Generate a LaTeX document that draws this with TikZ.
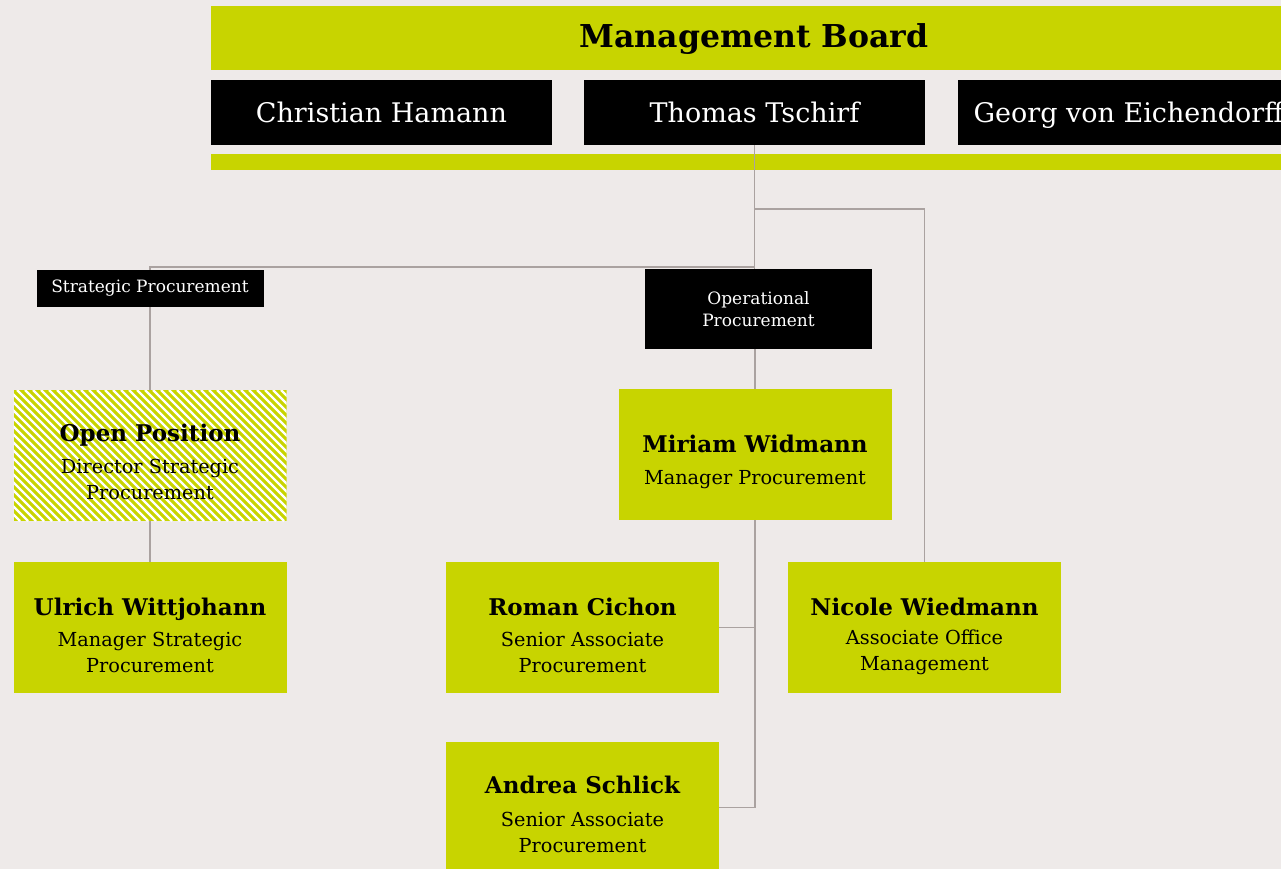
\documentclass[tikz,border=0pt]{standalone}
\usepackage{fontspec}
\setmainfont{DejaVu Serif}
\definecolor{bg}{RGB}{238,234,233}
\definecolor{lime}{RGB}{200,212,0}
\definecolor{conn}{RGB}{170,162,160}
\begin{document}
\begin{tikzpicture}[x=1pt,y=-1pt,
  bar/.style={fill=lime, inner sep=0, anchor=north west},
  member/.style={fill=black, text=white, minimum width=341, minimum height=65, inner sep=0, text height=20, text depth=0, font=\fontsize{27}{32}\selectfont},
  dept/.style={fill=black, text=white, inner sep=0, align=center, font=\fontsize{17}{22}\selectfont},
  person/.style={fill=lime, minimum width=273, minimum height=131, inner sep=0},
  pname/.style={font=\fontsize{23}{26}\selectfont\bfseries, inner sep=0, text height=17, text depth=0},
  ptitle/.style={font=\fontsize{19.3}{26}\selectfont, align=center, inner sep=0},
  conn/.style={draw=conn, line width=1.5}]
\useasboundingbox (0,0) rectangle (1281,869);
\fill[bg] (0,0) rectangle (1281,869);
\clip (0,0) rectangle (1281,869);

% board
\node[bar, minimum width=1070, minimum height=64] (boardbar) at (211,6) {};
\node[font=\fontsize{31.5}{36}\selectfont\bfseries, inner sep=0] (boardtitle) at (754,39) {Management Board};
\node[member] (hamann) at (381.5,112.5) {Christian Hamann};
\node[member] (tschirf) at (754.5,112.5) {Thomas Tschirf};
\node[member] (eichendorff) at (1128.5,112.5) {Georg von Eichendorff};
\node[bar, minimum width=1070, minimum height=16] (boardbottom) at (211,154) {};

% departments
\node[dept, minimum width=227, minimum height=37] (spl) at (150,288.5) {\raisebox{-1.5pt}{Strategic Procurement}};
\node[dept, minimum width=227, minimum height=80] (opl) at (758.5,309) {Operational\\Procurement};

% persons
\node[person] (miriam) at (755,454.5) {};
\node[pname] (miriamN) at ([yshift=10.5]miriam.center) {Miriam Widmann};
\node[ptitle] (miriamT) at ([yshift=-25.5]miriam.center) {Manager Procurement};

\begin{scope}
\clip (13.5,390) rectangle (286.5,521);
\fill[lime] (13.5,390) rectangle (286.5,521);
\foreach \i in {-140,-132,...,290} {
  \draw[white, line width=2.2] (13+\i,390) -- (13+\i+131,521);
}
\end{scope}
\node[minimum width=273, minimum height=131, inner sep=0] (open) at (150,455.5) {};
\node[pname] (openN) at ([yshift=23]open.center) {Open Position};
\node[ptitle] (openT) at ([yshift=-23.5]open.center) {Director Strategic\\Procurement};

\node[person] (ulrich) at (150,627.5) {};
\node[pname] (ulrichN) at ([yshift=21]ulrich.center) {Ulrich Wittjohann};
\node[ptitle] (ulrichT) at ([yshift=-24.5]ulrich.center) {Manager Strategic\\Procurement};

\node[person] (roman) at (582.5,627.5) {};
\node[pname] (romanN) at ([yshift=21]roman.center) {Roman Cichon};
\node[ptitle] (romanT) at ([yshift=-24.5]roman.center) {Senior Associate\\Procurement};

\node[person] (nicole) at (924.5,627.5) {};
\node[pname] (nicoleN) at ([yshift=21]nicole.center) {Nicole Wiedmann};
\node[ptitle] (nicoleT) at ([yshift=-24.5]nicole.center) {Associate Office\\Management};

\node[person] (andrea) at (582.5,807.5) {};
\node[pname] (andreaN) at ([yshift=23]andrea.center) {Andrea Schlick};
\node[ptitle] (andreaT) at ([yshift=-24.5]andrea.center) {Senior Associate\\Procurement};

% connectors
\coordinate (jtop) at (754.5,209);
\coordinate (jmid) at (754.5,267);
\draw[conn] (tschirf.south) -- (tschirf.south |- opl.north);
\draw[conn] (jtop) -| (nicole.north);
\draw[conn] (jmid) -| (spl.north);
\draw[conn] (spl.south) -- (open.north);
\draw[conn] (open.south) -- (ulrich.north);
\draw[conn] (opl.south -| miriam.north) -- (miriam.north);
\draw[conn] (miriam.south) |- (roman.east);
\draw[conn] (miriam.south) |- (andrea.east);
\end{tikzpicture}
\end{document}
